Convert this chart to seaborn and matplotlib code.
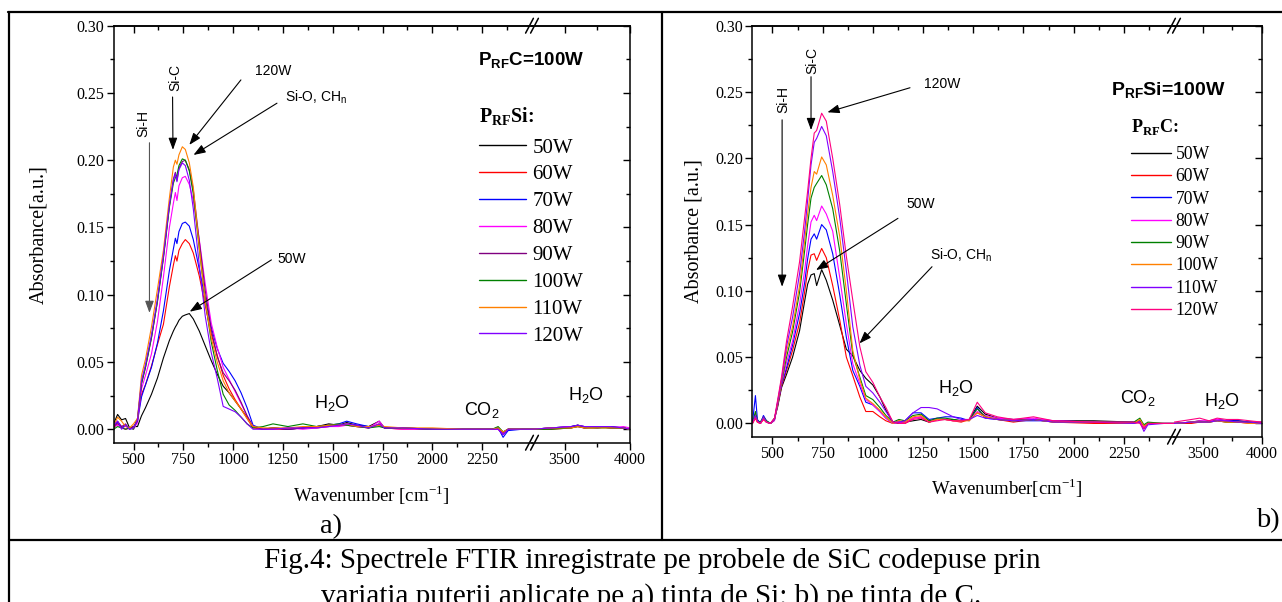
import matplotlib
matplotlib.use("Agg")
import matplotlib.pyplot as plt
from matplotlib.lines import Line2D
from matplotlib.ticker import FixedLocator, FormatStrFormatter, MultipleLocator
import seaborn as sns
import pandas as pd

W, H = 1282, 602

powers = ["50W", "60W", "70W", "80W", "90W", "100W", "110W", "120W"]
colors_a = ["#000000", "#ff0000", "#0000ff", "#ff00ff", "#800080", "#008000", "#ff8000", "#8000ff"]
colors_b = ["#000000", "#ff0000", "#0000ff", "#ff00ff", "#008000", "#ff8000", "#8000ff", "#ff0080"]

# panel a) - P_RF Si varied, P_RF C = 100W
wn_a = [400, 420, 440, 460, 480, 500, 520,
        540, 560, 590, 620, 650, 680, 700, 710, 718, 728, 745, 760, 780, 800,
        830, 860, 890, 920, 950, 980, 1010, 1040, 1070, 1100,
        1150, 1200, 1275, 1350, 1420, 1480, 1530, 1570, 1620, 1680,
        1733, 1760, 1850, 2000, 2150, 2300, 2330, 2355, 2380, 2450,
        2500, 3250, 3400, 3550, 3600, 3650, 3750, 3850, 3950, 4000]

a_50 = [0.004, 0.011, 0.007, 0.008, 0.001, 0.002, 0.002,
        0.010, 0.016, 0.026, 0.038, 0.053, 0.066, 0.073, 0.076, 0.078, 0.081, 0.084, 0.085, 0.086, 0.082,
        0.073, 0.062, 0.051, 0.041, 0.032, 0.027, 0.021, 0.015, 0.009, 0.002,
        0.000, 0.001, 0.000, 0.001, 0.002, 0.004, 0.003, 0.005, 0.003, 0.002,
        0.006, 0.001, 0.001, 0.000, 0.000, 0.000, 0.001, -0.003, 0.000, 0.000,
        0.000, 0.000, 0.001, 0.002, 0.003, 0.001, 0.002, 0.001, 0.001, 0.000]
a_60 = [0.001, 0.004, 0.002, 0.000, 0.001, 0.001, 0.008,
        0.026, 0.033, 0.047, 0.063, 0.078, 0.106, 0.122, 0.129, 0.125, 0.133, 0.138, 0.141, 0.138, 0.131,
        0.114, 0.092, 0.071, 0.055, 0.040, 0.030, 0.022, 0.015, 0.008, 0.001,
        0.000, 0.000, 0.000, 0.001, 0.001, 0.002, 0.003, 0.003, 0.002, 0.001,
        0.004, 0.001, 0.000, 0.000, 0.000, 0.000, 0.000, -0.004, 0.000, 0.000,
        0.000, 0.000, 0.000, 0.001, 0.002, 0.001, 0.001, 0.002, 0.001, 0.000]
a_70 = [0.002, 0.005, 0.001, 0.003, 0.000, 0.001, 0.006,
        0.024, 0.033, 0.046, 0.064, 0.088, 0.118, 0.134, 0.142, 0.138, 0.147, 0.153, 0.154, 0.151, 0.141,
        0.119, 0.097, 0.076, 0.060, 0.049, 0.043, 0.036, 0.027, 0.016, 0.003,
        0.000, 0.001, 0.000, 0.001, 0.002, 0.003, 0.004, 0.006, 0.004, 0.002,
        0.003, 0.001, 0.001, 0.000, 0.000, 0.000, 0.001, -0.006, -0.001, 0.000,
        0.000, 0.000, 0.001, 0.002, 0.003, 0.002, 0.001, 0.002, 0.001, 0.000]
a_80 = [0.002, 0.003, 0.001, 0.000, 0.001, 0.000, 0.005,
        0.030, 0.040, 0.056, 0.080, 0.113, 0.150, 0.168, 0.176, 0.170, 0.181, 0.187, 0.188, 0.182, 0.170,
        0.141, 0.108, 0.079, 0.061, 0.046, 0.037, 0.028, 0.019, 0.010, 0.002,
        0.000, 0.000, 0.001, 0.000, 0.001, 0.002, 0.002, 0.003, 0.002, 0.001,
        0.006, 0.001, 0.000, 0.000, 0.000, 0.000, 0.000, -0.003, 0.000, 0.000,
        0.000, 0.000, 0.001, 0.002, 0.002, 0.001, 0.002, 0.001, 0.002, 0.001]
a_90 = [0.001, 0.006, 0.002, 0.004, 0.000, 0.002, 0.006,
        0.034, 0.046, 0.068, 0.095, 0.128, 0.166, 0.186, 0.191, 0.185, 0.194, 0.199, 0.200, 0.193, 0.178,
        0.140, 0.103, 0.074, 0.054, 0.042, 0.036, 0.029, 0.020, 0.010, 0.002,
        0.000, 0.001, 0.000, 0.001, 0.002, 0.003, 0.003, 0.004, 0.003, 0.001,
        0.003, 0.001, 0.001, 0.000, 0.000, 0.000, 0.001, -0.002, 0.000, 0.000,
        0.000, 0.000, 0.001, 0.001, 0.003, 0.002, 0.002, 0.001, 0.001, 0.000]
a_100 = [0.000, 0.002, 0.001, 0.000, 0.001, 0.000, 0.008,
         0.034, 0.046, 0.068, 0.095, 0.127, 0.165, 0.183, 0.187, 0.189, 0.196, 0.201, 0.200, 0.192, 0.175,
         0.134, 0.096, 0.065, 0.044, 0.026, 0.018, 0.014, 0.009, 0.004, 0.001,
         0.002, 0.004, 0.002, 0.004, 0.002, 0.003, 0.004, 0.003, 0.002, 0.001,
         0.002, 0.001, 0.001, 0.000, 0.000, 0.000, 0.002, -0.002, 0.000, 0.000,
         0.000, 0.000, 0.000, 0.001, 0.002, 0.001, 0.001, 0.001, 0.001, 0.000]
a_110 = [0.002, 0.009, 0.006, 0.002, 0.001, 0.004, 0.008,
         0.040, 0.052, 0.076, 0.104, 0.133, 0.172, 0.195, 0.200, 0.197, 0.204, 0.210, 0.208, 0.198, 0.180,
         0.135, 0.095, 0.068, 0.050, 0.036, 0.027, 0.021, 0.015, 0.008, 0.002,
         0.001, 0.001, 0.001, 0.002, 0.002, 0.003, 0.003, 0.004, 0.002, 0.002,
         0.003, 0.002, 0.001, 0.001, 0.000, 0.000, 0.001, -0.002, 0.000, 0.000,
         0.000, 0.000, 0.001, 0.001, 0.002, 0.001, 0.001, 0.001, 0.001, 0.000]
a_120 = [0.003, 0.006, 0.000, 0.003, 0.000, 0.001, 0.007,
         0.036, 0.048, 0.070, 0.097, 0.129, 0.167, 0.185, 0.190, 0.184, 0.193, 0.198, 0.196, 0.185, 0.164,
         0.122, 0.084, 0.057, 0.038, 0.017, 0.015, 0.013, 0.009, 0.004, 0.000,
         0.000, 0.000, 0.001, 0.001, 0.001, 0.002, 0.003, 0.004, 0.003, 0.001,
         0.004, 0.001, 0.001, 0.000, 0.000, 0.000, 0.000, -0.004, 0.000, 0.000,
         0.000, 0.000, 0.001, 0.002, 0.003, 0.002, 0.002, 0.002, 0.001, 0.000]

# panel b) - P_RF C varied, P_RF Si = 100W
wn_b = [400, 415, 425, 440, 455, 470, 490, 510, 525,
        545, 570, 600, 635, 660, 675, 692, 708, 720, 745,
        768, 800, 835, 868, 900, 935, 965, 1000, 1035, 1065, 1100,
        1130, 1160, 1200, 1240, 1280, 1320, 1360, 1400, 1440, 1480,
        1520, 1560, 1620, 1700, 1800, 1900, 2100, 2300, 2330, 2350,
        2370, 2450, 2500, 3250, 3400, 3470, 3550, 3620, 3700, 3800, 3900, 4000]

b_50 = [0.000, 0.006, 0.002, 0.001, 0.004, 0.001, 0.000, 0.004, 0.012,
        0.027, 0.037, 0.050, 0.070, 0.092, 0.105, 0.112, 0.113, 0.104, 0.116,
        0.108, 0.093, 0.074, 0.056, 0.051, 0.040, 0.034, 0.029, 0.020, 0.010, 0.001,
        0.000, 0.001, 0.002, 0.003, 0.001, 0.003, 0.003, 0.003, 0.002, 0.003,
        0.013, 0.007, 0.004, 0.003, 0.003, 0.002, 0.002, 0.001, 0.002, -0.002,
        0.000, 0.000, 0.000, 0.000, 0.001, 0.002, 0.001, 0.003, 0.002, 0.002, 0.001, 0.001]
b_60 = [0.000, 0.004, 0.001, 0.000, 0.003, 0.001, 0.000, 0.003, 0.013,
        0.028, 0.040, 0.055, 0.076, 0.099, 0.115, 0.127, 0.128, 0.123, 0.132,
        0.125, 0.104, 0.078, 0.050, 0.036, 0.020, 0.009, 0.009, 0.005, 0.002, 0.000,
        0.002, 0.000, 0.004, 0.005, 0.001, 0.003, 0.003, 0.002, 0.001, 0.003,
        0.008, 0.005, 0.003, 0.001, 0.003, 0.001, 0.000, 0.000, 0.001, -0.003,
        0.000, 0.000, 0.000, 0.000, 0.000, 0.001, 0.001, 0.002, 0.001, 0.001, 0.000, 0.000]
b_70 = [0.000, 0.021, 0.003, 0.000, 0.006, 0.002, 0.000, 0.003, 0.014,
        0.029, 0.042, 0.059, 0.083, 0.106, 0.124, 0.139, 0.143, 0.139, 0.150,
        0.146, 0.128, 0.097, 0.065, 0.040, 0.028, 0.016, 0.014, 0.009, 0.004, 0.000,
        0.001, 0.002, 0.008, 0.008, 0.003, 0.004, 0.005, 0.005, 0.004, 0.002,
        0.012, 0.004, 0.003, 0.002, 0.002, 0.002, 0.001, 0.001, 0.001, -0.004,
        0.000, 0.000, 0.000, 0.000, 0.001, 0.001, 0.002, 0.003, 0.002, 0.002, 0.001, 0.000]
b_80 = [0.000, 0.007, 0.002, 0.000, 0.004, 0.001, 0.000, 0.002, 0.014,
        0.030, 0.046, 0.062, 0.090, 0.115, 0.134, 0.152, 0.157, 0.153, 0.164,
        0.158, 0.145, 0.110, 0.075, 0.045, 0.030, 0.018, 0.014, 0.009, 0.004, 0.000,
        0.001, 0.001, 0.004, 0.005, 0.002, 0.003, 0.003, 0.002, 0.002, 0.003,
        0.009, 0.006, 0.004, 0.003, 0.004, 0.002, 0.001, 0.001, 0.001, -0.003,
        0.000, 0.000, 0.000, 0.000, 0.001, 0.002, 0.002, 0.003, 0.002, 0.001, 0.001, 0.001]
b_90 = [0.000, 0.009, 0.002, 0.001, 0.005, 0.002, 0.000, 0.003, 0.015,
        0.031, 0.050, 0.069, 0.099, 0.130, 0.150, 0.170, 0.178, 0.181, 0.187,
        0.180, 0.162, 0.130, 0.090, 0.052, 0.035, 0.021, 0.018, 0.012, 0.006, 0.001,
        0.003, 0.002, 0.006, 0.007, 0.002, 0.004, 0.004, 0.003, 0.002, 0.003,
        0.011, 0.005, 0.003, 0.002, 0.003, 0.001, 0.001, 0.001, 0.004, -0.001,
        0.001, 0.000, 0.000, 0.000, 0.001, 0.001, 0.001, 0.002, 0.001, 0.001, 0.001, 0.000]
b_100 = [0.000, 0.005, 0.001, 0.000, 0.004, 0.001, 0.000, 0.003, 0.015,
         0.032, 0.054, 0.073, 0.104, 0.137, 0.158, 0.178, 0.190, 0.188, 0.201,
         0.195, 0.172, 0.141, 0.100, 0.055, 0.033, 0.019, 0.015, 0.010, 0.005, 0.000,
         0.002, 0.001, 0.005, 0.006, 0.001, 0.003, 0.003, 0.002, 0.002, 0.002,
         0.008, 0.005, 0.003, 0.002, 0.003, 0.001, 0.001, 0.000, 0.003, -0.002,
         0.000, 0.000, 0.000, 0.000, 0.001, 0.001, 0.001, 0.002, 0.001, 0.001, 0.000, 0.000]
b_110 = [0.000, 0.006, 0.002, 0.000, 0.005, 0.001, 0.000, 0.003, 0.016,
         0.033, 0.058, 0.080, 0.113, 0.145, 0.168, 0.195, 0.212, 0.215, 0.224,
         0.217, 0.190, 0.155, 0.115, 0.073, 0.044, 0.028, 0.023, 0.016, 0.009, 0.001,
         0.001, 0.002, 0.008, 0.012, 0.012, 0.011, 0.008, 0.005, 0.003, 0.003,
         0.006, 0.004, 0.003, 0.002, 0.003, 0.001, 0.001, 0.000, 0.001, -0.006,
         -0.001, 0.000, 0.000, 0.000, 0.001, 0.001, 0.001, 0.002, 0.002, 0.001, 0.001, 0.000]
b_120 = [0.000, 0.004, 0.001, 0.000, 0.003, 0.001, 0.000, 0.004, 0.017,
         0.035, 0.062, 0.088, 0.122, 0.155, 0.175, 0.200, 0.219, 0.221, 0.234,
         0.228, 0.200, 0.165, 0.126, 0.093, 0.058, 0.039, 0.031, 0.020, 0.012, 0.001,
         0.000, 0.000, 0.003, 0.004, 0.001, 0.002, 0.003, 0.002, 0.002, 0.003,
         0.016, 0.008, 0.005, 0.003, 0.005, 0.002, 0.001, 0.001, 0.000, -0.004,
         0.000, 0.000, 0.000, 0.001, 0.003, 0.004, 0.002, 0.004, 0.003, 0.003, 0.002, 0.001]

x_major = [500, 750, 1000, 1250, 1500, 1750, 2000, 2250]
x_minor = [625, 875, 1125, 1375, 1625, 1875, 2125, 2375]

SERIF = "Liberation Serif"
SANS = "Liberation Sans"

sns.set_theme(style="ticks")
plt.rcParams["font.family"] = [SERIF, "DejaVu Sans"]
plt.rcParams["text.color"] = "black"
plt.rcParams["axes.labelcolor"] = "black"
plt.rcParams["axes.edgecolor"] = "black"
plt.rcParams["axes.linewidth"] = 1.1
plt.rcParams["xtick.color"] = "black"
plt.rcParams["ytick.color"] = "black"
plt.rcParams["mathtext.fontset"] = "custom"
plt.rcParams["mathtext.rm"] = SERIF
plt.rcParams["mathtext.bf"] = SERIF + ":bold"
plt.rcParams["mathtext.sf"] = SANS
plt.rcParams["mathtext.it"] = SANS + ":bold"


def px(x, y):
    """figure pixel (origin top-left) -> figure fraction"""
    return x / W, 1 - y / H


def long_table(wn, series):
    rows = []
    for label, vals in zip(powers, series):
        for w, v in zip(wn, vals):
            rows.append((w, v, label))
    return pd.DataFrame(rows, columns=["wavenumber", "absorbance", "power"])


def broken_axes(fig, x0, xb, x1, ytop, ybot):
    left, bottom = px(x0, ybot)
    hgt = (ybot - ytop) / H
    ax1 = fig.add_axes([left, bottom, (xb - x0) / W, hgt])
    ax2 = fig.add_axes([xb / W, bottom, (x1 - xb) / W, hgt])
    for ax in (ax1, ax2):
        ax.patch.set_visible(False)
    return ax1, ax2


def style_pair(ax1, ax2):
    ax1.set_xlim(400, 2500)
    ax2.set_xlim(3250, 4000)
    majors = [x_major, [3500, 4000]]
    minors = [x_minor, [3750]]
    for ax, mj, mn in zip((ax1, ax2), majors, minors):
        ax.set(xlabel="", ylabel="")
        ax.set_ylim(-0.01, 0.30)
        ax.yaxis.set_major_locator(MultipleLocator(0.05))
        ax.yaxis.set_minor_locator(MultipleLocator(0.025))
        ax.xaxis.set_major_locator(FixedLocator(mj))
        ax.xaxis.set_minor_locator(FixedLocator(mn))
        ax.tick_params(axis="x", which="both", direction="out", top=False, labelsize=11.5, pad=2)
        ax.tick_params(which="major", length=5, width=1)
        ax.tick_params(which="minor", length=3, width=1)
        top = ax.secondary_xaxis("top")
        top.xaxis.set_major_locator(FixedLocator(mj))
        top.xaxis.set_minor_locator(FixedLocator(mn))
        top.tick_params(axis="x", which="both", direction="in", labeltop=False, width=1)
        top.tick_params(which="major", length=5)
        top.tick_params(which="minor", length=3)
    ax1.spines["right"].set_visible(False)
    ax2.spines["left"].set_visible(False)
    ax1.tick_params(axis="y", which="both", direction="out", left=True, right=False,
                    labelsize=11.5, pad=1.5)
    ax2.tick_params(axis="y", which="both", direction="in", left=False, right=True,
                    labelleft=False, labelright=False)
    ax1.yaxis.set_major_formatter(FormatStrFormatter("%.2f"))


def break_marks(fig, xb, ytop, ybot):
    for yy in (ytop, ybot):
        for c in (xb - 2.5, xb + 2.5):
            xa, ya = px(c - 3.9, yy + 7.4)
            xz, yz = px(c + 3.9, yy - 7.4)
            fig.add_artist(Line2D([xa, xz], [ya, yz], transform=fig.transFigure,
                                  color="black", lw=1.1))


def arrow(ax, start, tip, color="black"):
    ax.annotate("", xy=tip, xytext=start, annotation_clip=False,
                arrowprops=dict(arrowstyle="-|>,head_length=0.6,head_width=0.22",
                                color=color, lw=0.8, mutation_scale=12,
                                shrinkA=0, shrinkB=0))


fig = plt.figure(figsize=(W / 100, H / 100), dpi=100)
fig.patch.set_facecolor("white")

ax_a1, ax_a2 = broken_axes(fig, 113.6, 532, 630, 25.7, 442.7)
ax_b1, ax_b2 = broken_axes(fig, 752.4, 1174, 1261.5, 25.7, 436.7)

df_a = long_table(wn_a, [a_50, a_60, a_70, a_80, a_90, a_100, a_110, a_120])
df_b = long_table(wn_b, [b_50, b_60, b_70, b_80, b_90, b_100, b_110, b_120])

for ax in (ax_a1, ax_a2):
    sns.lineplot(data=df_a, x="wavenumber", y="absorbance", hue="power", hue_order=powers,
                 palette=colors_a, estimator=None, sort=False, linewidth=0.8, legend=False, ax=ax)
for ax in (ax_b1, ax_b2):
    sns.lineplot(data=df_b, x="wavenumber", y="absorbance", hue="power", hue_order=powers,
                 palette=colors_b, estimator=None, sort=False, linewidth=0.8, legend=False, ax=ax)

style_pair(ax_a1, ax_a2)
style_pair(ax_b1, ax_b2)
break_marks(fig, 532, 25.7, 442.7)
break_marks(fig, 1174, 25.7, 436.7)

# y labels
ax_a1.set_ylabel("Absorbance[a.u.]", fontsize=14.5, family=SERIF)
ax_a1.yaxis.set_label_coords(-0.156, 0.5)
ax_b1.set_ylabel("Absorbance [a.u.]", fontsize=14.5, family=SERIF)
ax_b1.yaxis.set_label_coords(-0.116, 0.5)

# x labels
fig.text(*px(371.4, 501.7), "Wavenumber [cm$^{-1}$]", ha="center", va="baseline",
         fontsize=13.5, family=SERIF)
fig.text(*px(1007, 495), "Wavenumber[cm$^{-1}$]", ha="center", va="baseline",
         fontsize=13.5, family=SERIF)

# legends
leg_a = ax_a1.legend(ax_a1.lines[:8], powers, loc="upper left",
                     bbox_to_anchor=px(478.5, 138), bbox_transform=fig.transFigure,
                     frameon=False, borderpad=0, borderaxespad=0,
                     handlelength=2.28, handletextpad=0.3, labelspacing=0.35,
                     prop={"family": SERIF, "size": 15})
leg_b = ax_b1.legend(ax_b1.lines[:8], powers, loc="upper left",
                     bbox_to_anchor=px(1131, 146), bbox_transform=fig.transFigure,
                     frameon=False, borderpad=0, borderaxespad=0,
                     handlelength=2.24, handletextpad=0.28, labelspacing=0.30,
                     prop={"family": SERIF, "size": 12.7})
for leg in (leg_a, leg_b):
    leg.set_zorder(10)
    for ln in leg.get_lines():
        ln.set_linewidth(1.0)

fig.text(*px(479, 123), r"P$_\mathbf{RF}$Si:", fontsize=14.3, family=SERIF,
         weight="bold", va="baseline")
fig.text(*px(477.7, 65), r"P$_\mathit{RF}$C=100W", fontsize=13.5, family=SANS,
         weight="bold", va="baseline")
fig.text(*px(1131, 131.7), r"P$_\mathbf{RF}$C:", fontsize=13, family=SERIF,
         weight="bold", va="baseline")
fig.text(*px(1111.4, 95), r"P$_\mathit{RF}$Si=100W", fontsize=14, family=SANS,
         weight="bold", va="baseline")

# annotations, panel a)
ann = dict(fontsize=10, family=SANS)
ax_a1.text(548, 0.2275, "Si-H", rotation=90, ha="center", va="center", **ann)
arrow(ax_a1, (580, 0.213), (580, 0.0865), color="#555555")
ax_a1.text(712, 0.2616, "Si-C", rotation=90, ha="center", va="center", **ann)
arrow(ax_a1, (696, 0.247), (698, 0.2077))
ax_a1.text(1109, 0.2634, "120W", ha="left", va="baseline", **ann)
arrow(ax_a1, (1039, 0.2597), (780, 0.2114))
ax_a1.text(1258, 0.2436, r"Si-O, CH$_\mathsf{n}$", ha="left", va="baseline", **ann)
arrow(ax_a1, (1220, 0.2424), (801, 0.2039))
ax_a1.text(1224, 0.1234, "50W", ha="left", va="baseline", **ann)
arrow(ax_a1, (1192, 0.1259), (782, 0.0874))
ax_a1.text(1496, 0.0156, r"H$_\mathsf{2}$O", ha="center", va="baseline", fontsize=13, family=SANS)
ax_a1.text(2249, 0.0106, r"CO$_\mathsf{2}$", ha="center", va="baseline", fontsize=13, family=SANS)
ax_a2.text(3663, 0.0218, r"H$_\mathsf{2}$O", ha="center", va="baseline", fontsize=13, family=SANS)

# annotations, panel b)
ax_b1.text(555, 0.2447, "Si-H", rotation=90, ha="center", va="center", **ann)
arrow(ax_b1, (548, 0.229), (548, 0.1031))
ax_b1.text(700, 0.2734, "Si-C", rotation=90, ha="center", va="center", **ann)
arrow(ax_b1, (692, 0.2615), (692, 0.2213))
ax_b1.text(1254, 0.2528, "120W", ha="left", va="baseline", **ann)
arrow(ax_b1, (1185, 0.2532), (773.6, 0.2347))
ax_b1.text(1165, 0.1623, "50W", ha="left", va="baseline", **ann)
arrow(ax_b1, (1125, 0.1547), (717, 0.1157))
ax_b1.text(1283, 0.1233, r"Si-O, CH$_\mathsf{n}$", ha="left", va="baseline", **ann)
arrow(ax_b1, (1294.6, 0.1182), (933.5, 0.0604))
ax_b1.text(1411.6, 0.0230, r"H$_\mathsf{2}$O", ha="center", va="baseline", fontsize=13, family=SANS)
ax_b1.text(2320.7, 0.0154, r"CO$_\mathsf{2}$", ha="center", va="baseline", fontsize=13, family=SANS)
ax_b2.text(3661, 0.0132, r"H$_\mathsf{2}$O", ha="center", va="baseline", fontsize=13, family=SANS)

# panel letters and caption
fig.text(*px(331, 533), "a)", ha="center", va="baseline", fontsize=20.5, family=SERIF)
fig.text(*px(1268, 527), "b)", ha="center", va="baseline", fontsize=20.5, family=SERIF)
fig.text(*px(652, 568), "Fig.4: Spectrele FTIR inregistrate pe probele de SiC codepuse prin",
         ha="center", va="baseline", fontsize=21, family=SERIF)
fig.text(*px(651.5, 604), "variatia puterii aplicate pe a) tinta de Si; b) pe tinta de C.",
         ha="center", va="baseline", fontsize=21, family=SERIF)

# table frame around the figure
for (xa, ya), (xz, yz) in [((8, 12), (1282, 12)), ((9, 12), (9, 602)),
                           ((662, 12), (662, 540)), ((9, 540), (1282, 540))]:
    p0, p1 = px(xa, ya), px(xz, yz)
    fig.add_artist(Line2D([p0[0], p1[0]], [p0[1], p1[1]], transform=fig.transFigure,
                          color="black", lw=1.6))

fig.savefig("out.png", dpi=100)
